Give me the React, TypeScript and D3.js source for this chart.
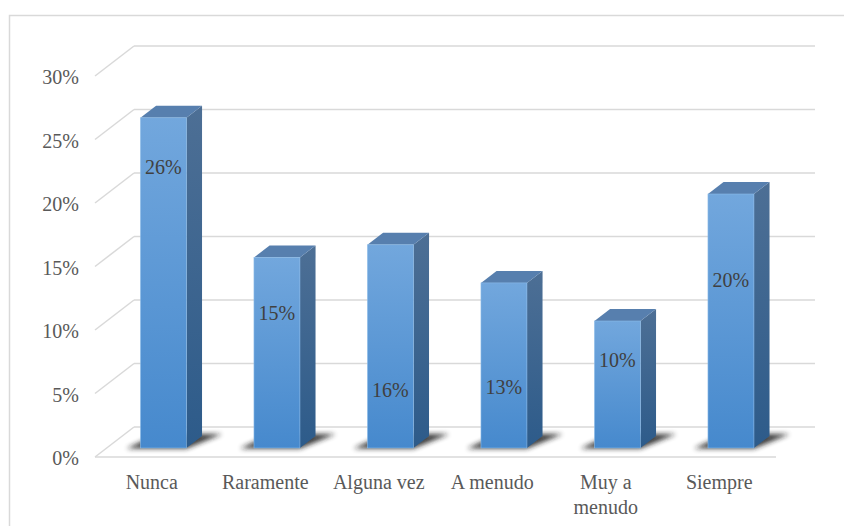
import React from "react";
import * as d3 from "d3";

// Survey answer frequencies
const categories: string[][] = [
  ["Nunca"],
  ["Raramente"],
  ["Alguna vez"],
  ["A menudo"],
  ["Muy a", "menudo"],
  ["Siempre"],
];
const shares: number[] = [0.26, 0.15, 0.16, 0.13, 0.1, 0.2];
// height (in axis units) at which each value label sits on its column
const labelLevels: number[] = [0.221, 0.106, 0.046, 0.048, 0.069, 0.132];
const yTicks: number[] = [0, 0.05, 0.1, 0.15, 0.2, 0.25, 0.3];

const W = 844;
const H = 526;

// front plane of the 3-D box and the depth vector toward the back wall
const plot = { left: 95, right: 776, top: 76, bottom: 457 };
const depth = { dx: 39, dy: -30 };
const barDepth = { from: 0.3, to: 0.7 };

const pct = d3.format(".0%");

export default function App() {
  const x = d3
    .scaleBand<number>()
    .domain(d3.range(categories.length))
    .range([plot.left, plot.right])
    .paddingInner(0.595)
    .paddingOuter(0.2975);
  const y = d3.scaleLinear().domain([0, 0.3]).range([plot.bottom, plot.top]);

  const gridColor = "#d9d9d9";

  const backX0 = plot.left + depth.dx;
  const backX1 = plot.right + depth.dx;

  const fdx = depth.dx * barDepth.from;
  const fdy = depth.dy * barDepth.from;
  const sdx = depth.dx * (barDepth.to - barDepth.from);
  const sdy = depth.dy * (barDepth.to - barDepth.from);

  const poly = (pts: [number, number][]) =>
    pts.map((p) => p.join(",")).join(" ");

  return (
    <svg
      width={W}
      height={H}
      style={{ position: "absolute", left: 0, top: 0, background: "#fff" }}
      fontFamily="'Liberation Serif', 'Times New Roman', serif"
    >
      <defs>
        <linearGradient id="front" x1="0" y1="0" x2="0" y2="1">
          <stop offset="0" stopColor="#72a7dd" />
          <stop offset="1" stopColor="#4689cd" />
        </linearGradient>
        <linearGradient id="side" x1="0" y1="0" x2="0" y2="1">
          <stop offset="0" stopColor="#4d6f95" />
          <stop offset="1" stopColor="#2d5b8a" />
        </linearGradient>
        <filter id="shadowBlur" x="-50%" y="-50%" width="200%" height="200%">
          <feGaussianBlur stdDeviation="2.6" />
        </filter>
      </defs>

      {/* chart border */}
      <path
        d={`M9.5,${H} V15.5 H${W}`}
        fill="none"
        stroke={gridColor}
        strokeWidth={1.5}
      />

      {/* gridlines: diagonal on the side wall, horizontal on the back wall */}
      {yTicks.map((t) => {
        const yf = y(t);
        const yb = yf + depth.dy;
        return (
          <g key={t} stroke={gridColor} strokeWidth={1.5} fill="none">
            <line x1={plot.left} y1={yf} x2={backX0} y2={yb} />
            <line x1={backX0} y1={yb} x2={backX1} y2={yb} />
          </g>
        );
      })}
      {/* front edge of the floor */}
      <line
        x1={plot.left}
        y1={y(0)}
        x2={plot.right}
        y2={y(0)}
        stroke={gridColor}
        strokeWidth={1.5}
      />

      {/* y-axis labels */}
      {yTicks.map((t) => (
        <text
          key={t}
          x={79}
          y={y(t) + 1}
          dy="0.35em"
          textAnchor="end"
          fontSize={20}
          fill="#595959"
        >
          {pct(t)}
        </text>
      ))}

      {/* floor shadows */}
      {shares.map((v, i) => {
        const bx = (x(i) as number) + fdx;
        const bw = x.bandwidth();
        const by = y(0) + fdy;
        return (
          <polygon
            key={i}
            points={poly([
              [bx - 14, by + 0.5],
              [bx + bw, by + 0.5],
              [bx + bw + sdx + 20, by + sdy - 2],
              [bx + sdx + 2, by + sdy - 2],
            ])}
            fill="#1a1a1a"
            opacity={0.85}
            filter="url(#shadowBlur)"
          />
        );
      })}

      {/* columns */}
      {shares.map((v, i) => {
        const bx = (x(i) as number) + fdx;
        const bw = x.bandwidth();
        const yb = y(0) + fdy;
        const yt = y(v) + fdy;
        return (
          <g key={i}>
            <polygon
              points={poly([
                [bx + bw, yt],
                [bx + bw + sdx, yt + sdy],
                [bx + bw + sdx, yb + sdy],
                [bx + bw, yb],
              ])}
              fill="url(#side)"
            />
            <polygon
              points={poly([
                [bx, yt],
                [bx + sdx, yt + sdy],
                [bx + bw + sdx, yt + sdy],
                [bx + bw, yt],
              ])}
              fill="#577fae"
            />
            <rect
              x={bx}
              y={yt}
              width={bw}
              height={yb - yt}
              fill="url(#front)"
              stroke="#8bbbe8"
              strokeWidth={0.6}
            />
            <text
              x={bx + bw / 2}
              y={y(labelLevels[i]) + fdy}
              dy="0.35em"
              textAnchor="middle"
              fontSize={20}
              fill="#404040"
            >
              {pct(v)}
            </text>
          </g>
        );
      })}

      {/* category labels */}
      {categories.map((lines, i) => (
        <text
          key={i}
          x={(x(i) as number) + x.bandwidth() / 2}
          y={482}
          dy="0.35em"
          textAnchor="middle"
          fontSize={20}
          fill="#595959"
        >
          {lines.map((l, j) => (
            <tspan key={j} x={(x(i) as number) + x.bandwidth() / 2} dy={j === 0 ? "0.35em" : 25}>
              {l}
            </tspan>
          ))}
        </text>
      ))}
    </svg>
  );
}
